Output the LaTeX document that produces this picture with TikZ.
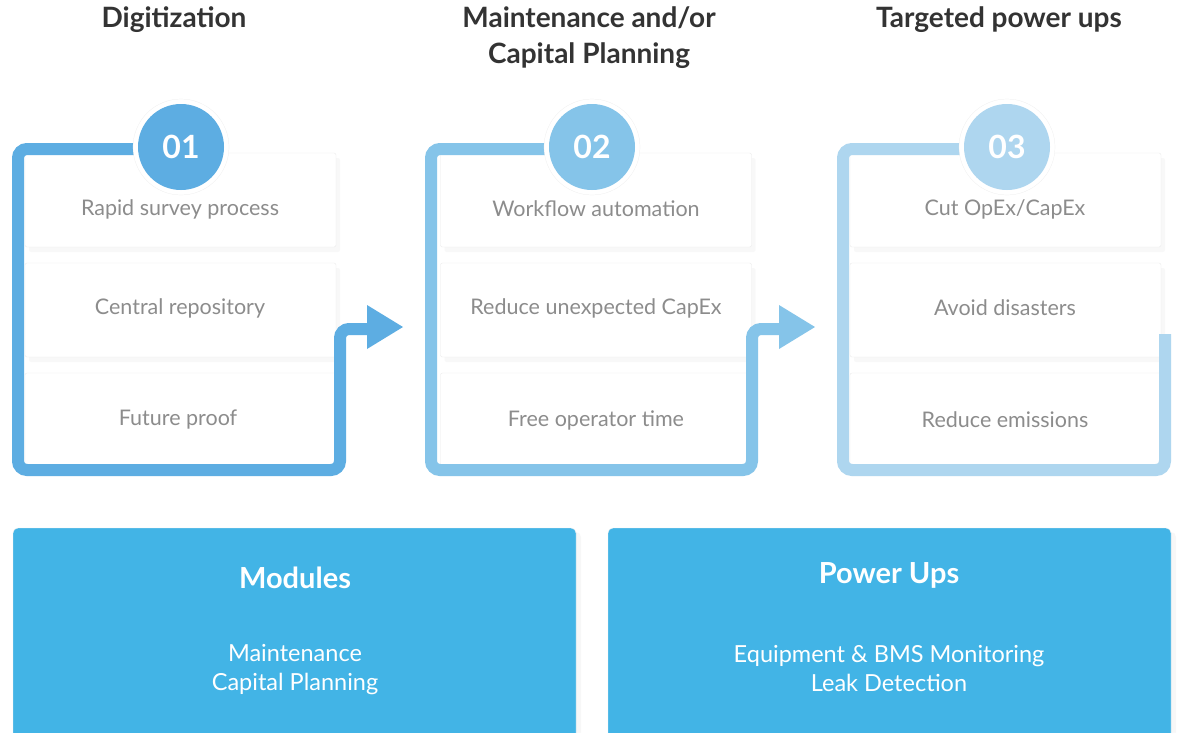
\documentclass[tikz,border=0pt]{standalone}
\usepackage{fontspec}
\setmainfont{Lato}
\usetikzlibrary{shadows}

\definecolor{stepone}{RGB}{93,173,226}
\definecolor{steptwo}{RGB}{133,196,233}
\definecolor{stepthree}{RGB}{174,214,239}
\definecolor{panelblue}{RGB}{66,180,230}
\definecolor{itemgray}{RGB}{140,140,140}
\definecolor{headgray}{RGB}{51,51,51}

\tikzset{
  card/.style={draw=black!8, fill=white, rounded corners=2pt,
    minimum width=311pt, minimum height=94pt, inner sep=0pt,
    drop shadow={shadow xshift=4pt, shadow yshift=-5pt, opacity=0.05}},
  item/.style={text=itemgray, font=\fontsize{21.5}{24}\selectfont},
  head/.style={text=headgray, font=\fontsize{28}{36}\selectfont\bfseries, align=center},
  frame/.style={line width=12pt, rounded corners=9pt},
  halo/.style={circle, fill=white, draw=black!8, very thin, minimum size=96pt},
  badge/.style={circle, text=white, minimum size=86pt, inner sep=0pt,
    font=\fontsize{32}{32}\selectfont\bfseries},
  panel/.style={fill=panelblue, rounded corners=5pt, minimum width=563pt,
    minimum height=220pt, draw=black!6,
    drop shadow={shadow xshift=5pt, shadow yshift=-4pt, opacity=0.06}},
  ptitle/.style={text=white, font=\fontsize{29}{30}\selectfont\bfseries},
  ptext/.style={text=white, font=\fontsize{23.5}{29}\selectfont, align=center}
}

\begin{document}
\begin{tikzpicture}[x=1pt,y=-1pt]
\useasboundingbox[fill=white] (0,0) rectangle (1177,732);

% column headings
\node[head] (h1) at (174,20) {Digitization};
\node[head] (h2) at (589,38) {Maintenance and/or\\Capital Planning};
\node[head] (h3) at (999,20) {Targeted power ups};

% cards, first column
\node[card] (c11) at (180.5,200) {};
\node[card] (c12) at (180.5,310) {};
\node[card] (c13) at (180.5,420) {};
\node[item] (t11) at (180,209) {Rapid survey process};
\node[item] (t12) at (180,308) {Central repository};
\node[item] (t13) at (178,420) {Future proof};

% cards, second column
\node[card] (c21) at (596,200) {};
\node[card] (c22) at (596,310) {};
\node[card] (c23) at (596,420) {};
\node[item] (t21) at (596,209) {Workflow automation};
\node[item] (t22) at (596,308) {Reduce unexpected CapEx};
\node[item] (t23) at (596,420) {Free operator time};

% cards, third column
\node[card] (c31) at (1005.5,200) {};
\node[card] (c32) at (1005.5,310) {};
\node[card] (c33) at (1005.5,420) {};
\node[item] (t31) at (1005,209) {Cut OpEx/CapEx};
\node[item] (t32) at (1005,308) {Avoid disasters};
\node[item] (t33) at (1005,420) {Reduce emissions};

% frames round the cards
\draw[frame, stepone] (181,149) -- (18,149) -- (18,470) -- (340,470) -- (340,329) -- (370,329);
\fill[stepone] (367,305) -- (403,327) -- (367,349) -- cycle;

\draw[frame, steptwo] (592,149) -- (431,149) -- (431,470) -- (752,470) -- (752,329) -- (782,329);
\fill[steptwo] (779,305) -- (815,327) -- (779,349) -- cycle;

\draw[frame, stepthree] (1007,149) -- (843,149) -- (843,470) -- (1165,470) -- (1165,334);

% numbered badges
\node[halo] (o1) at (181,147) {};
\node[halo] (o2) at (592,147) {};
\node[halo] (o3) at (1007,147) {};
\node[badge, fill=stepone] (b1) at (o1) {01};
\node[badge, fill=steptwo] (b2) at (o2) {02};
\node[badge, fill=stepthree] (b3) at (o3) {03};

% bottom panels
\node[panel] (m) at (294.5,638) {};
\node[ptitle] (mt) at (295,578) {Modules};
\node[ptext] (mx) at (295,670) {Maintenance\\Capital Planning};

\node[panel] (p) at (889.5,638) {};
\node[ptitle] (pt) at (889,575) {Power Ups};
\node[ptext] (px) at (889,669) {Equipment \& BMS Monitoring\\Leak Detection};
\end{tikzpicture}
\end{document}
